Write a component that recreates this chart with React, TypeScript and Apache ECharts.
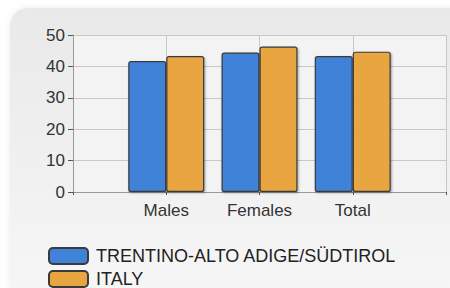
import React, { useEffect, useRef } from "react";
import * as echarts from "echarts";

const categories = ["Males", "Females", "Total"];
const seriesNames = ["TRENTINO-ALTO ADIGE/SÜDTIROL", "ITALY"];
const trentinoValues = [41.7, 44.4, 43.3];
const italyValues = [43.3, 46.3, 44.7];
const yTicks = [0, 10, 20, 30, 40, 50];

const BLUE = "#3f82d8";
const ORANGE = "#e9a640";

export default function App() {
  const ref = useRef<HTMLDivElement>(null);
  useEffect(() => {
    if (!ref.current) return;
    const chart = echarts.init(ref.current, null, { renderer: "svg" });
    const axisData = ["", ...categories, ""];
    const pad = (arr: number[]) => [null, ...arr, null];
    const barStyle = (color: string) => ({
      color,
      borderColor: "#3a3a3a",
      borderWidth: 1.2,
      borderRadius: 2,
      shadowColor: "rgba(0,0,0,0.35)",
      shadowBlur: 2,
      shadowOffsetX: 1,
      shadowOffsetY: 1,
    });
    const legendBase = {
      orient: "vertical",
      left: 48,
      padding: 0,
      itemWidth: 39,
      itemHeight: 16,
      icon: "roundRect",
      textStyle: { color: "#222", fontSize: 18, padding: [0, 0, 0, 3] },
    };
    chart.setOption({
      animation: false,
      backgroundColor: "#ffffff",
      textStyle: { fontFamily: "Liberation Sans, Arial, sans-serif" },
      graphic: [
        {
          type: "rect",
          z: -10,
          silent: true,
          shape: { x: 10, y: 8, width: 445, height: 285, r: [18, 0, 0, 0] },
          style: {
            fill: new echarts.graphic.LinearGradient(0, 0, 0, 1, [
              { offset: 0, color: "#e9e9e9" },
              { offset: 1, color: "#f6f6f6" },
            ]),
            shadowColor: "rgba(0,0,0,0.08)",
            shadowBlur: 6,
          },
        },
      ],
      grid: {
        left: 73,
        right: 4,
        top: 35,
        bottom: 96,
        show: true,
        backgroundColor: "#f3f3f3",
        borderWidth: 0,
      },
      xAxis: {
        type: "category",
        data: axisData,
        boundaryGap: false,
        axisLine: { show: true, lineStyle: { color: "#999", width: 1 } },
        axisTick: { show: true, length: 3, lineStyle: { color: "#555" } },
        axisLabel: { color: "#333", fontSize: 17, margin: 10 },
        splitLine: { show: true, lineStyle: { color: "#c8c8c8", width: 1 } },
      },
      yAxis: {
        type: "value",
        min: yTicks[0],
        max: yTicks[yTicks.length - 1],
        interval: 10,
        axisLine: { show: true, lineStyle: { color: "#999", width: 1 } },
        axisTick: { show: true, length: 5, lineStyle: { color: "#555" } },
        axisLabel: { color: "#333", fontSize: 17, margin: 8 },
        splitLine: { show: true, lineStyle: { color: "#c8c8c8", width: 1 } },
      },
      legend: [
        { ...legendBase, top: 247, data: [seriesNames[0]] },
        { ...legendBase, top: 270, data: [seriesNames[1]] },
      ],
      series: [
        {
          name: seriesNames[0],
          type: "bar",
          data: pad(trentinoValues),
          barWidth: 38,
          barGap: "0%",
          itemStyle: barStyle(BLUE),
        },
        {
          name: seriesNames[1],
          type: "bar",
          data: pad(italyValues),
          barWidth: 38,
          barGap: "0%",
          itemStyle: barStyle(ORANGE),
        },
      ],
    });
    return () => chart.dispose();
  }, []);
  return <div ref={ref} style={{ width: 450, height: 288, position: "absolute", left: 0, top: 0 }} />;
}
